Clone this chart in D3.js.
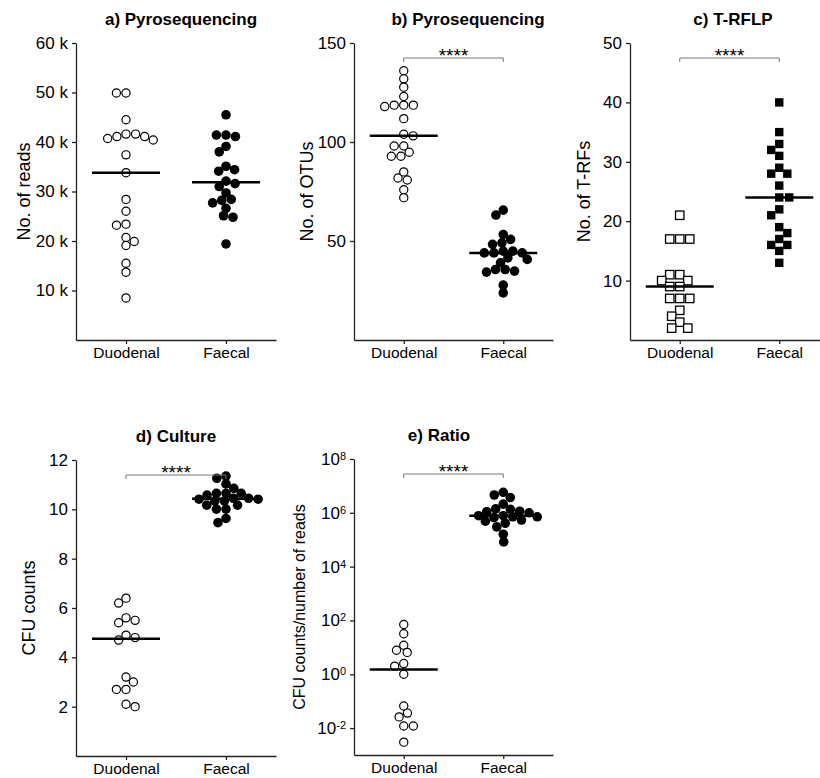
<!doctype html>
<html>
<head>
<title>Duodenal vs faecal</title>
<script src="https://d3js.org/d3.v7.min.js"></script>
<style>
  body { margin: 0; background: #fff; }
  text { font-family: Arial, "Liberation Sans", sans-serif; fill: #000; }
</style>
</head>
<body>
<script>
// groups on every x axis
var groups = ["Duodenal", "Faecal"];

// a) pyrosequencing, number of reads
var duoReads = [49900, 49900, 44500, 41600, 41600, 41100, 41100, 40700, 40400, 37400, 33800,
                28400, 26000, 23400, 23200, 20700, 19900, 19100, 15500, 13700, 8500];
var faeReads = [45500, 41400, 41400, 41100, 39100, 38000, 35100, 34400, 34100, 32100,
                31600, 31000, 29700, 28400, 28200, 27700, 26600, 25100, 24800, 19400];

// b) pyrosequencing, number of OTUs
var duoOTUs = [136, 131.9, 127.7, 123, 118.6, 118.6, 118.6, 117.9, 111.8, 103.9, 103.1,
               98, 98, 94.8, 92.8, 92.8, 84.9, 81.8, 80.8, 75.9, 71.9];
var faeOTUs = [65.6, 63.1, 53.3, 50.8, 49.1, 48.3, 44.9, 44.9, 44, 44,
               44, 41.5, 40.7, 39, 35.6, 35.6, 34.8, 34.3, 27.7, 23.8];

// c) T-RFLP, number of T-RFs
var duoTRFs = [21, 17, 17, 17, 11, 11, 10, 10, 9, 9, 7, 7, 7, 5, 4, 3, 2, 2];
var faeTRFs = [40, 35, 33, 32, 31, 29, 28, 28, 26, 24, 24, 22, 21, 19, 18, 17, 16, 16, 15, 13];

// d) culture, CFU counts
var duoCFU = [6.4, 6.2, 5.6, 5.5, 5.4, 4.9, 4.8, 4.7, 3.2, 3.0, 2.7, 2.7, 2.1, 2.0];
var faeCFU = [11.35, 11.26, 11.03, 10.85, 10.65, 10.65, 10.65, 10.58, 10.45, 10.45,
              10.41, 10.41, 10.34, 10.34, 10.17, 10.17, 10.01, 10.01, 9.63, 9.46];

// e) ratio CFU counts / number of reads
var duoRatio = [71, 32, 12, 7.8, 6.5, 2.5, 2.0, 1.0, 0.066, 0.036, 0.026, 0.012, 0.012, 0.003];
var faeRatio = [5.8e6, 4.6e6, 3.7e6, 2.1e6, 1.4e6, 1.35e6, 1.15e6, 1.1e6, 1.0e6, 7.8e5,
                7.8e5, 7.1e5, 7.1e5, 6.6e5, 5.4e5, 4.9e5, 4.1e5, 3.0e5, 1.6e5, 8.3e4];

// tick values
var ticksReads = [10000, 20000, 30000, 40000, 50000, 60000];
var ticksOTUs = [50, 100, 150];
var ticksTRFs = [10, 20, 30, 40, 50];
var ticksCFU = [2, 4, 6, 8, 10, 12];
var ticksRatio = [1e-2, 1, 1e2, 1e4, 1e6, 1e8];

var panels = [
  {title: "a) Pyrosequencing", ylabel: "No. of reads", duo: duoReads, fae: faeReads,
   domain: [0, 60000], ticks: ticksReads, fmt: function(d){ return d / 1000 + " k"; },
   x0: 76, x1: 276, top: 43, bottom: 340, titleX: 181, labelX: 30, shape: "circle", sig: false},
  {title: "b) Pyrosequencing", ylabel: "No. of OTUs", duo: duoOTUs, fae: faeOTUs,
   domain: [0, 150], ticks: ticksOTUs, fmt: d3.format("d"),
   x0: 354, x1: 553, top: 43, bottom: 340, titleX: 468, labelX: 313, shape: "circle", sig: true},
  {title: "c) T-RFLP", ylabel: "No. of T-RFs", duo: duoTRFs, fae: faeTRFs,
   domain: [0, 50], ticks: ticksTRFs, fmt: d3.format("d"),
   x0: 630, x1: 829, top: 43, bottom: 340, titleX: 733, labelX: 590, shape: "square", sig: true},
  {title: "d) Culture", ylabel: "CFU counts", duo: duoCFU, fae: faeCFU,
   domain: [0, 12], ticks: ticksCFU, fmt: d3.format("d"),
   x0: 76, x1: 276, top: 460, bottom: 756, titleX: 176, labelX: 35, shape: "circle", sig: true},
  {title: "e) Ratio", ylabel: "CFU counts/number of reads", duo: duoRatio, fae: faeRatio,
   domain: [1e-3, 1e8], ticks: ticksRatio, log: true, labelSize: 16,
   x0: 354, x1: 553, top: 459, bottom: 755, titleX: 439, labelX: 305, shape: "circle", sig: true}
];

var svg = d3.select("body").append("svg")
  .attr("width", 820)
  .attr("height", 778);

// simple beeswarm: each point goes as close to the centre as it can without overlap.
// k squashes the vertical reach a little so rows can interleave like in Prism
function swarm(vals, y, d, k) {
  var pts = vals.map(function(v){ return {v: v, y: y(v), x: 0}; });
  pts.sort(function(a, b){ return a.y - b.y; });
  var placed = [];
  var flip = 1;
  pts.forEach(function(p){
    var blocks = [];
    placed.forEach(function(q){
      var dy = Math.abs(q.y - p.y) * k;
      if (dy < d) {
        var w = Math.sqrt(d * d - dy * dy);
        blocks.push([q.x - w, q.x + w]);
      }
    });
    var cands = [0];
    blocks.forEach(function(b){ cands.push(b[0], b[1]); });
    var free = cands.filter(function(c){
      return blocks.every(function(b){ return c <= b[0] + 1e-6 || c >= b[1] - 1e-6; });
    });
    free.sort(function(a, b){ return (Math.abs(a) - Math.abs(b)) || (a - b) * flip; });
    p.x = free[0];
    if (Math.abs(p.x) > 1e-6) flip = -flip;
    placed.push(p);
  });
  return pts;
}

panels.forEach(function(p){
  var g = svg.append("g");

  var x = d3.scalePoint().domain(groups).range([p.x0, p.x1]).padding(0.5);
  var y = (p.log ? d3.scaleLog() : d3.scaleLinear()).domain(p.domain).range([p.bottom, p.top]);

  // y axis
  var yAxis = d3.axisLeft(y).tickValues(p.ticks).tickSize(4).tickSizeOuter(0).tickPadding(4);
  if (!p.log) yAxis.tickFormat(p.fmt);
  var ya = g.append("g").attr("transform", "translate(" + p.x0 + ",0)").call(yAxis);
  ya.selectAll("text").style("font-size", "17px");
  if (p.log) {
    ya.selectAll(".tick text").each(function(d){
      var t = d3.select(this).text("");
      t.append("tspan").text("10");
      t.append("tspan").attr("dy", "-0.45em").style("font-size", "11px").text(Math.round(Math.log10(d)));
    });
  }

  // x axis
  var xa = g.append("g").attr("transform", "translate(0," + p.bottom + ")")
    .call(d3.axisBottom(x).tickSize(4).tickSizeOuter(0).tickPadding(3));
  xa.selectAll("text").style("font-size", "15.5px");

  g.selectAll(".domain, .tick line").attr("stroke", "#222").attr("stroke-width", 1.3);

  // title
  g.append("text")
    .attr("x", p.titleX)
    .attr("y", p.top - 18)
    .attr("text-anchor", "middle")
    .style("font-size", "17px")
    .style("font-weight", "bold")
    .text(p.title);

  // y label
  g.append("text")
    .attr("transform", "translate(" + p.labelX + "," + (p.top + p.bottom) / 2 + ") rotate(-90)")
    .attr("text-anchor", "middle")
    .style("font-size", (p.labelSize || 18) + "px")
    .text(p.ylabel);

  // points
  [p.duo, p.fae].forEach(function(vals, i){
    var cx = x(groups[i]);
    var open = i === 0;
    if (p.shape === "square") {
      var sq = swarm(vals, y, 10, 1);
      g.selectAll(null).data(sq).enter().append("rect")
        .attr("x", function(d){ return cx + d.x - 4.2; })
        .attr("y", function(d){ return d.y - 4.2; })
        .attr("width", 8.4)
        .attr("height", 8.4)
        .attr("fill", open ? "#fff" : "#000")
        .attr("stroke", "#000")
        .attr("stroke-width", open ? 1.3 : 0);
    } else {
      var pts = swarm(vals, y, 9.6, 1.25);
      g.selectAll(null).data(pts).enter().append("circle")
        .attr("cx", function(d){ return cx + d.x; })
        .attr("cy", function(d){ return d.y; })
        .attr("r", open ? 4.1 : 4.8)
        .attr("fill", open ? "#fff" : "#000")
        .attr("stroke", "#000")
        .attr("stroke-width", open ? 1.2 : 0);
    }
    // median bar
    var m = d3.median(vals);
    g.append("line")
      .attr("x1", cx - 34).attr("x2", cx + 34)
      .attr("y1", y(m)).attr("y2", y(m))
      .attr("stroke", "#000")
      .attr("stroke-width", 2.5);
  });

  // significance bracket
  if (p.sig) {
    var by = p.top + 15;
    var xa0 = x(groups[0]), xa1 = x(groups[1]);
    g.append("path")
      .attr("d", "M" + xa0 + "," + (by + 4) + "V" + by + "H" + xa1 + "V" + (by + 4))
      .attr("fill", "none")
      .attr("stroke", "#777")
      .attr("stroke-width", 1);
    g.append("text")
      .attr("x", (xa0 + xa1) / 2)
      .attr("y", by + 3.5)
      .attr("text-anchor", "middle")
      .style("font-size", "19px")
      .text("****");
  }
});
</script>
</body>
</html>
